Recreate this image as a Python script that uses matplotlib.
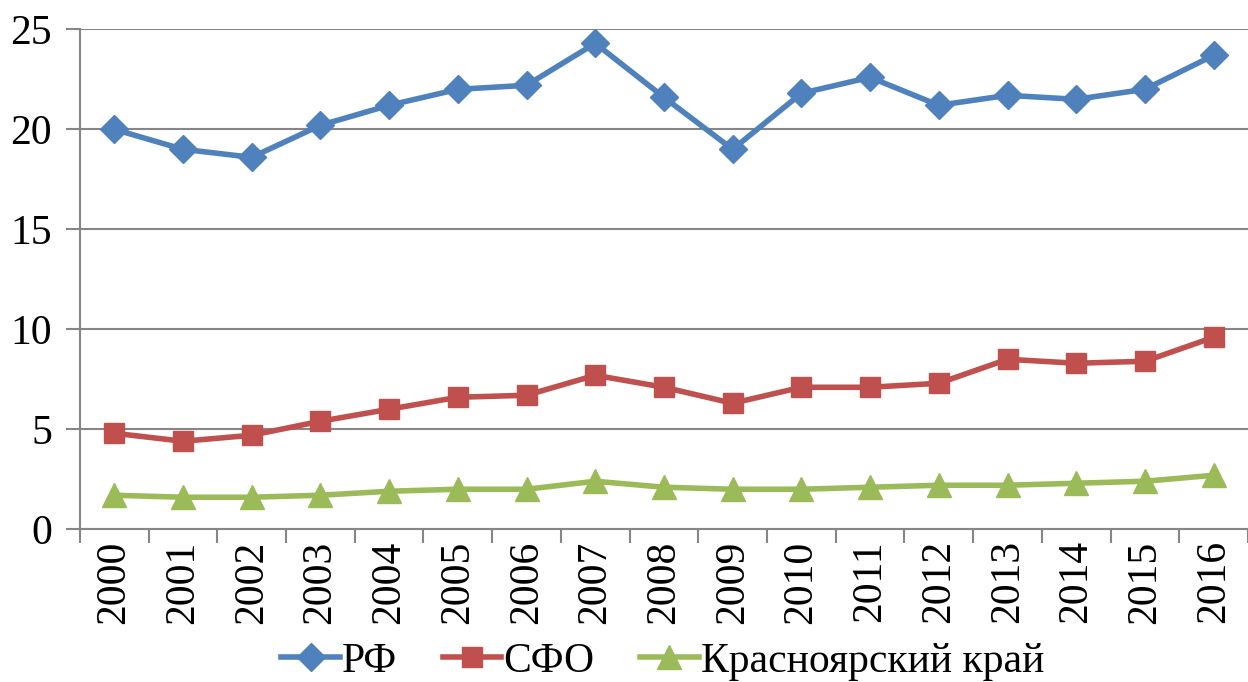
import matplotlib as mpl
mpl.use('Agg')
import matplotlib.pyplot as plt
import numpy as np

plt.rcParams['font.family'] = ['Liberation Serif', 'DejaVu Serif']

years = [str(y) for y in range(2000, 2017)]
rf = [20.0, 19.0, 18.6, 20.2, 21.2, 22.0, 22.2, 24.3, 21.6, 19.0, 21.8, 22.6, 21.2, 21.7, 21.5, 22.0, 23.7]
sfo = [4.8, 4.4, 4.7, 5.4, 6.0, 6.6, 6.7, 7.7, 7.1, 6.3, 7.1, 7.1, 7.3, 8.5, 8.3, 8.4, 9.6]
kras = [1.7, 1.6, 1.6, 1.7, 1.9, 2.0, 2.0, 2.4, 2.1, 2.0, 2.0, 2.1, 2.2, 2.2, 2.3, 2.4, 2.7]
labels = ['РФ', 'СФО', 'Красноярский край']

grid_c = '#868686'

fig = plt.figure(figsize=(12.48, 6.82), dpi=100)
ax = fig.add_axes([0.064, 0.224, 0.936, 0.733])

x = np.arange(len(years))
ax.plot(x, rf, color='#4F81BD', lw=4, marker='D', ms=14, label=labels[0], zorder=3)
ax.plot(x, sfo, color='#C0504D', lw=4, marker='s', ms=15, label=labels[1], zorder=3)
ax.plot(x, kras, color='#9BBB59', lw=4, marker='^', ms=17, label=labels[2], zorder=3)

ax.set_xlim(-0.5, len(years) - 0.5)
ax.set_ylim(0, 25)
ax.set_yticks(range(0, 26, 5))
ax.yaxis.grid(True, color=grid_c, lw=1.5)
ax.set_axisbelow(True)

# category ticks sit between years, labels centred
ax.set_xticks(np.arange(-0.5, len(years), 1.0))
ax.set_xticklabels([])
ax.set_xticks(x, minor=True)
ax.set_xticklabels(years, minor=True, rotation=90, fontsize=30)
ax.tick_params(axis='x', which='major', length=10, width=1.5, color=grid_c, direction='out')
ax.tick_params(axis='x', which='minor', length=0, pad=8)
ax.tick_params(axis='y', length=10, width=1.5, color=grid_c, labelsize=30, pad=10)

for s in ['top', 'right']:
    ax.spines[s].set_visible(False)
for s in ['left', 'bottom']:
    ax.spines[s].set_color(grid_c)
    ax.spines[s].set_linewidth(1.5)

ax.legend(loc='center', bbox_to_anchor=(0.531, 0.03), bbox_transform=fig.transFigure,
          ncol=3, frameon=False, fontsize=30, handlelength=1.4, handletextpad=0.05,
          columnspacing=1.1, borderaxespad=0)

fig.savefig('out.png', dpi=100)
